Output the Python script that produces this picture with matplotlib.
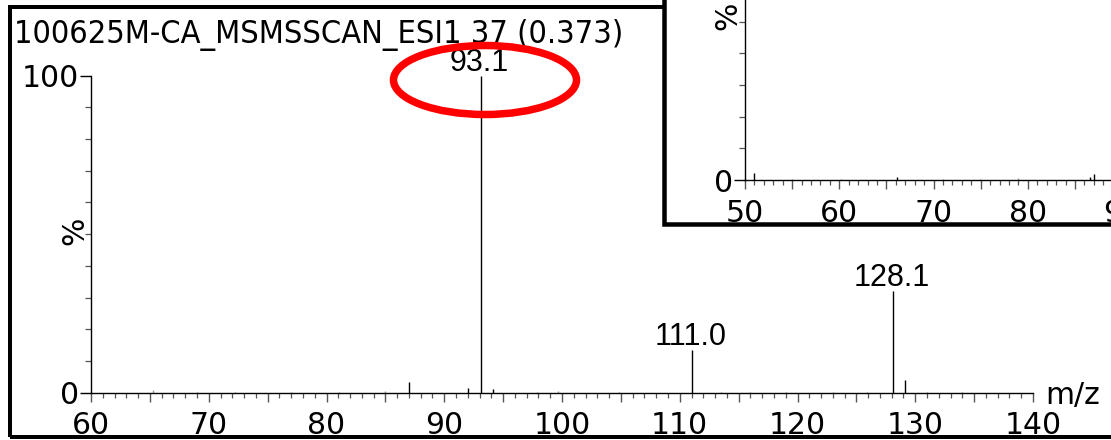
import matplotlib
matplotlib.use("Agg")
import matplotlib.pyplot as plt
from matplotlib.patches import Rectangle, Ellipse
from matplotlib.ticker import MultipleLocator, FuncFormatter, FixedLocator
from matplotlib import font_manager

# ---------------- data ----------------
title_text = "100625M-CA_MSMSSCAN_ESI1 37 (0.373)"

main_mz = [65.3, 69.0, 72.2, 77.0, 81.1, 85.0, 87.0, 92.0, 93.1, 94.1,
           97.9, 99.7, 104.8, 111.0, 113.5, 116.0, 119.0, 123.0, 125.9,
           128.1, 129.1, 131.0, 134.0]
main_int = [0.8, 0.3, 0.3, 0.3, 0.3, 0.4, 3.4, 1.6, 100.0, 1.2,
            0.3, 0.4, 0.3, 13.6, 0.3, 0.3, 0.3, 0.3, 0.3,
            32.0, 4.1, 0.3, 0.3]
main_labels = {93.1: "93.1", 111.0: "111.0", 128.1: "128.1"}

inset_mz = [51.0, 55.0, 60.2, 66.1, 71.0, 74.9, 78.9, 86.6, 87.0]
inset_int = [2.1, 0.3, 0.3, 1.0, 0.3, 0.4, 0.5, 1.0, 1.9]

main_xlim = (60, 140)
inset_xlim = (50, 130)
ylim = (0, 100)

# ---------------- figure ----------------
W, H = 1111, 440
fig = plt.figure(figsize=(W / 100, H / 100), dpi=100)
fig.patch.set_facecolor("white")


def fx(x):
    return x / W


def fy(y):
    return 1 - y / H


def px2pt(p):
    return p * 72 / 100


TICK_FONT = "DejaVu Sans"
LABEL_FONT = "Liberation Sans"
TICK_SIZE = 21.5
GRAY = "#555555"
XPAD = px2pt(9)


def style_axis(ax, xlim, label_step=10):
    ax.set_xlim(*xlim)
    ax.set_ylim(*ylim)
    ax.set_facecolor("none")
    for s in ("top", "right"):
        ax.spines[s].set_visible(False)
    for s in ("left", "bottom"):
        ax.spines[s].set_color("black")
        ax.spines[s].set_linewidth(1.0)
    ax.xaxis.set_major_locator(MultipleLocator(5))
    ax.xaxis.set_minor_locator(MultipleLocator(1))
    ax.xaxis.set_major_formatter(FuncFormatter(
        lambda v, p: f"{int(round(v))}" if abs(v / label_step - round(v / label_step)) < 1e-6 else ""))
    ax.tick_params(axis="x", which="major", direction="out", length=px2pt(9),
                   width=1.0, color=GRAY, pad=XPAD, labelsize=TICK_SIZE)
    ax.tick_params(axis="x", which="minor", direction="out", length=px2pt(4.5),
                   width=0.9, color=GRAY)
    ax.yaxis.set_major_locator(FixedLocator([0, 100]))
    ax.yaxis.set_minor_locator(FixedLocator(list(range(10, 100, 10))))
    ax.yaxis.set_major_formatter(FuncFormatter(lambda v, p: f"{int(v)}"))
    ax.tick_params(axis="y", which="major", direction="out", length=px2pt(11),
                   width=1.0, color="black", pad=0.5, labelsize=TICK_SIZE)
    ax.tick_params(axis="y", which="minor", direction="out", length=px2pt(6),
                   width=0.9, color=GRAY)
    for t in ax.get_xticklabels() + ax.get_yticklabels():
        t.set_fontfamily(TICK_FONT)


# ---- main frame ----
frame = Rectangle((fx(10), fy(437)), fx(1140) - fx(10), fy(7) - fy(437),
                  transform=fig.transFigure, fill=False, edgecolor="black",
                  linewidth=px2pt(4), zorder=0.5)
fig.patches.append(frame)

# ---- main axes ----
ax = fig.add_axes([fx(91), fy(392.7), (1033 - 91) / W, (392.7 - 75.7) / H])
ax.set_zorder(1)
style_axis(ax, main_xlim)
cols = ["black" if v >= 1.0 else "#9a9a9a" for v in main_int]
ax.vlines(main_mz, 0, main_int, colors=cols, linewidth=1.0)
for mz, inten in zip(main_mz, main_int):
    if mz in main_labels:
        ax.annotate(main_labels[mz], (mz, inten), xytext=(-1, px2pt(5)),
                    textcoords="offset points", ha="center", va="baseline",
                    fontsize=22, family=LABEL_FONT, color="black")

# ---- title: narrow font if available, fitted to reference width ----
names = {f.name for f in font_manager.fontManager.ttflist}
cond_dejavu = any(f.name == "DejaVu Sans" and "ondensed" in f.fname
                  for f in font_manager.fontManager.ttflist)
if cond_dejavu:
    tfam, tstretch = "DejaVu Sans", "condensed"
elif "DejaVu Sans Condensed" in names:
    tfam, tstretch = "DejaVu Sans Condensed", "normal"
elif "Liberation Sans Narrow" in names:
    tfam, tstretch = "Liberation Sans Narrow", "normal"
else:
    tfam, tstretch = "DejaVu Sans", "normal"
title = fig.text(fx(14), fy(35), title_text, ha="left", va="center",
                 fontsize=22, family=tfam, fontstretch=tstretch, zorder=1.5)
fig.canvas.draw()
bb = title.get_window_extent()
target_w = 611
title.set_fontsize(min(23.5, 22 * target_w / bb.width))

fig.text(fx(75), fy(231), "%", rotation=90, ha="center", va="center",
         fontsize=TICK_SIZE, family=TICK_FONT, zorder=1.5)
fig.text(fx(1045), fy(395), "m/z", ha="left", va="center",
         fontsize=TICK_SIZE, family=TICK_FONT, zorder=1.5)

# ---- inset box ----
ibox = Rectangle((fx(664), fy(224.5)), fx(1200) - fx(664), fy(-20) - fy(224.5),
                 transform=fig.transFigure, facecolor="white", edgecolor="black",
                 linewidth=px2pt(4.5), zorder=2)
fig.patches.append(ibox)

ix0, iy0 = 745, 180
iscale = 9.43
iax = fig.add_axes([fx(ix0), fy(iy0), (inset_xlim[1] - inset_xlim[0]) * iscale / W,
                    317 / H])
iax.set_zorder(3)
style_axis(iax, inset_xlim)
iax.tick_params(axis="x", which="major", pad=XPAD + px2pt(1))
icols = ["black" if v >= 1.0 else "#9a9a9a" for v in inset_int]
iax.vlines(inset_mz, 0, inset_int, colors=icols, linewidth=1.0)
fig.text(fx(728), fy(16), "%", rotation=90, ha="center", va="center",
         fontsize=TICK_SIZE, family=TICK_FONT, zorder=3.5)

# ---- red highlight ellipse ----
ell = Ellipse((fx(485), fy(80)), 183 / W, 69 / H, transform=fig.transFigure,
              fill=False, edgecolor="#ff0000", linewidth=px2pt(7.5), zorder=5)
fig.patches.append(ell)

fig.savefig("out.png", dpi=100)
